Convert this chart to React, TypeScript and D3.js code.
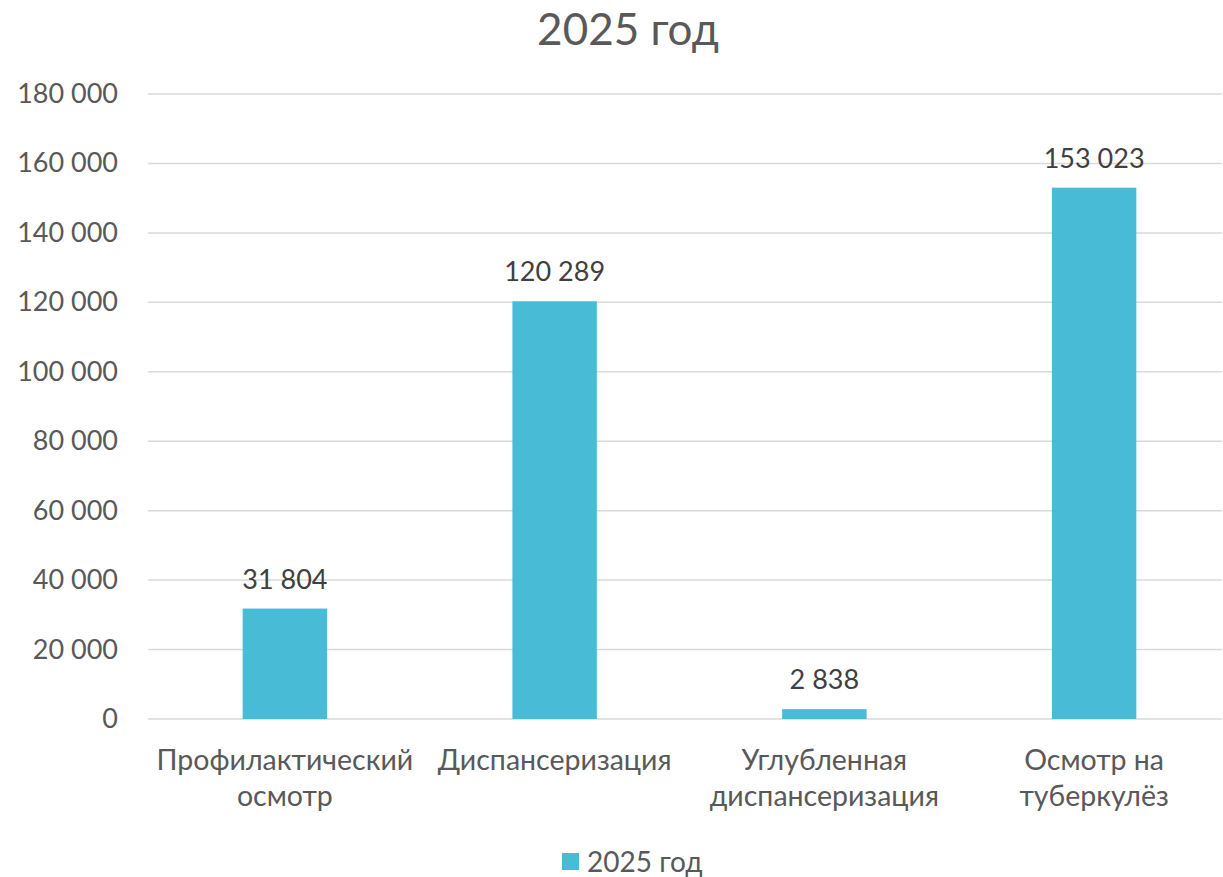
import React from "react";
import * as d3 from "d3";

const categories = [
  ["Профилактический", "осмотр"],
  ["Диспансеризация"],
  ["Углубленная", "диспансеризация"],
  ["Осмотр на", "туберкулёз"],
];
const values2025 = [31804, 120289, 2838, 153023];
const yTicks = [0, 20000, 40000, 60000, 80000, 100000, 120000, 140000, 160000, 180000];
const seriesName = "2025 год";

const W = 1223;
const H = 877;
const FONT = "Lato, 'Open Sans', sans-serif";
const BAR = "#48BCD7";

const fmt = (v: number) => d3.format(",")(v).replace(/,/g, " ");

export default function App() {
  const left = 148, right = 1222, top = 94, bottom = 719;
  const x = d3
    .scaleBand<number>()
    .domain(categories.map((_, i) => i))
    .range([150, 1229])
    .paddingInner(0.687)
    .paddingOuter(0.3435);
  const y = d3.scaleLinear().domain([0, 180000]).range([bottom, top]);

  return (
    <svg
      width={W}
      height={H}
      style={{ position: "absolute", left: 0, top: 0, background: "#fff" }}
      fontFamily={FONT}
    >
      <text x={628} y={45} textAnchor="middle" fontSize={44} fill="#595959">
        {seriesName}
      </text>
      {yTicks.map((t) => (
        <g key={t}>
          <line x1={left} x2={right} y1={y(t)} y2={y(t)} stroke="#D9D9D9" strokeWidth={1.5} />
          <text x={118} y={y(t) + 9} textAnchor="end" fontSize={27} fill="#595959">
            {fmt(t)}
          </text>
        </g>
      ))}
      {values2025.map((v, i) => (
        <g key={i}>
          <rect x={x(i)} y={y(v)} width={x.bandwidth()} height={bottom - y(v)} fill={BAR} />
          <text
            x={x(i)! + x.bandwidth() / 2}
            y={y(v) - 20}
            textAnchor="middle"
            fontSize={27}
            fill="#404040"
          >
            {fmt(v)}
          </text>
        </g>
      ))}
      {categories.map((lines, i) => (
        <text
          key={i}
          x={x(i)! + x.bandwidth() / 2}
          textAnchor="middle"
          fontSize={28.5}
          fill="#595959"
        >
          {lines.map((l, j) => (
            <tspan key={j} x={x(i)! + x.bandwidth() / 2} y={770 + j * 36}>
              {l}
            </tspan>
          ))}
        </text>
      ))}
      <rect x={562} y={853} width={17} height={17} fill={BAR} />
      <text x={587} y={872} fontSize={28} fill="#595959">
        {seriesName}
      </text>
    </svg>
  );
}
